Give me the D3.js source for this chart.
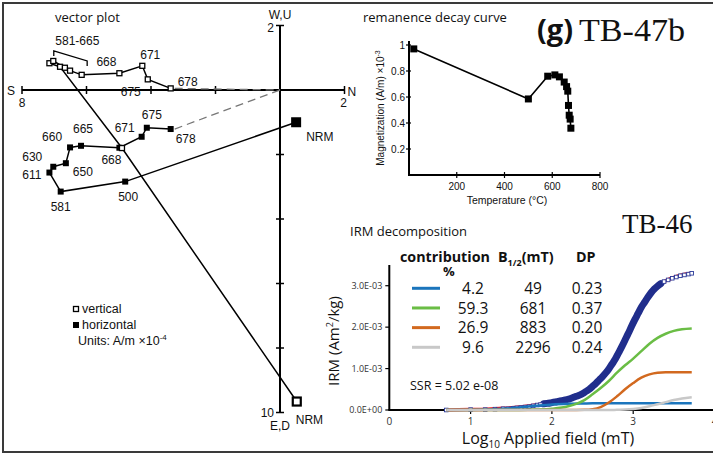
<!DOCTYPE html>
<html>
<head>
<meta charset="utf-8">
<script src="https://cdn.jsdelivr.net/npm/d3@7"></script>
<style>
body { margin: 0; background: #fff; }
svg { display: block; }
</style>
</head>
<body>
<svg id="fig" width="713" height="456"></svg>
<script>
// ---- vector plot (units A/m x1e-4), N positive right, down positive
const steps = ["NRM", "500", "581", "611", "630", "650", "660", "665", "668", "671", "675", "678"];
const horN  = [0.50, -4.80, -6.80, -7.15, -7.03, -6.64, -6.51, -6.17, -4.98, -4.29, -4.13, -3.39];
const horE  = [1.00, 2.84, 3.15, 2.56, 2.38, 2.27, 1.78, 1.73, 1.79, 1.45, 1.17, 1.21];
const vertN = [0.52, -4.90, -6.82, -7.15, -7.03, -6.67, -6.51, -6.15, -4.98, -4.27, -4.10, -3.39];
const vertD = [9.66, 1.80, -0.72, -0.83, -0.90, -0.69, -0.60, -0.47, -0.52, -0.75, -0.33, -0.05];
const vecTicksH = [-8, -6, -4, -2, 2];
const vecTicksV = [-2, 2, 4, 6, 8, 10];

// ---- remanence decay curve
const decayT = [20, 500, 581, 611, 630, 650, 660, 665, 668, 671, 675, 678];
const decayM = [0.97, 0.585, 0.76, 0.77, 0.755, 0.715, 0.68, 0.645, 0.535, 0.46, 0.43, 0.36];
const decayTicksX = [200, 400, 600, 800];
const decayTicksY = [0.2, 0.4, 0.6, 0.8, 1];

// ---- IRM decomposition (IRM in 1e-3 Am2/kg)
const fieldLog = [0.7, 1.0, 1.2, 1.4, 1.6, 1.8, 2.0, 2.2, 2.4, 2.5, 2.6, 2.7, 2.8, 2.9, 3.0, 3.1, 3.2, 3.3, 3.4, 3.5, 3.6, 3.72];
const comp1 = [0, 0.003, 0.012, 0.03, 0.06, 0.10, 0.135, 0.152, 0.158, 0.16, 0.16, 0.16, 0.16, 0.16, 0.16, 0.16, 0.16, 0.16, 0.16, 0.16, 0.16, 0.16];
const comp2 = [0, 0, 0, 0, 0.002, 0.01, 0.03, 0.09, 0.24, 0.38, 0.53, 0.70, 0.90, 1.08, 1.24, 1.42, 1.60, 1.74, 1.84, 1.91, 1.95, 1.97];
const comp3 = [0, 0, 0, 0, 0, 0, 0, 0, 0.005, 0.02, 0.07, 0.18, 0.33, 0.50, 0.65, 0.78, 0.86, 0.90, 0.91, 0.91, 0.91, 0.91];
const comp4 = [0, 0, 0, 0, 0, 0, 0, 0, 0, 0, 0, 0, 0.005, 0.01, 0.025, 0.05, 0.09, 0.14, 0.19, 0.24, 0.28, 0.31];
const fitSum = [0, 0.01, 0.02, 0.04, 0.07, 0.12, 0.18, 0.26, 0.42, 0.57, 0.76, 0.99, 1.30, 1.70, 2.10, 2.48, 2.78, 2.99, 3.12, 3.20, 3.26, 3.30];
const measLog = [0.70, 1.00, 1.18, 1.30, 1.40, 1.46, 1.52, 1.57, 1.62, 1.67, 1.72, 1.77, 1.82, 1.86, 1.90, 1.94, 1.98,
  2.02, 2.06, 2.10, 2.14, 2.18, 2.22, 2.26, 2.30, 2.34, 2.38, 2.42, 2.46, 2.50, 2.54, 2.58, 2.62, 2.66, 2.70, 2.74, 2.78,
  2.82, 2.86, 2.90, 2.94, 2.98, 3.02, 3.06, 3.10, 3.14, 3.18, 3.22, 3.26, 3.30, 3.34, 3.38, 3.43, 3.48, 3.53, 3.58, 3.63, 3.68, 3.72];
const measIRM = [0.00, 0.01, 0.01, 0.02, 0.03, 0.03, 0.04, 0.05, 0.06, 0.07, 0.08, 0.10, 0.12, 0.13, 0.15, 0.16, 0.17,
  0.19, 0.20, 0.22, 0.23, 0.25, 0.27, 0.30, 0.33, 0.36, 0.40, 0.45, 0.50, 0.57, 0.64, 0.72, 0.80, 0.89, 0.99, 1.11, 1.23,
  1.38, 1.53, 1.69, 1.85, 2.02, 2.18, 2.33, 2.48, 2.60, 2.72, 2.83, 2.92, 2.99, 3.05, 3.10, 3.14, 3.18, 3.21, 3.24, 3.26, 3.28, 3.30];
const compContrib = ["4.2", "59.3", "26.9", "9.6"];
const compB = ["49", "681", "883", "2296"];
const compDP = ["0.23", "0.37", "0.20", "0.24"];
const irmTicksX = [0, 1, 2, 3, 4];
const irmTicksY = [0, 1, 2, 3];

const compColors = ["#1b75bc", "#6abd45", "#d2691f", "#c8c8c8"];
const sans = "Liberation Sans, Arial, sans-serif";
const open = "Open Sans, sans-serif";
const serif = "Liberation Serif, Times New Roman, serif";

const svg = d3.select("#fig");

// frame
svg.append("path")
	.attr("d", "M713,3H3V452H713")
	.attr("fill", "none")
	.attr("stroke", "#3a3a3a")
	.attr("stroke-width", 2);

// ================= vector plot
const vx = d3.scaleLinear().domain([-8, 2]).range([22, 344.5]);
const vy = d3.scaleLinear().domain([-2, 10]).range([25.5, 412.5]);
const vp = svg.append("g").attr("font-family", sans).attr("font-size", 12).attr("fill", "#111");

vp.append("text").attr("x", 55).attr("y", 22).attr("font-family", open).attr("font-size", 13)
	.text("vector plot");

vp.append("line").attr("x1", vx(-8)).attr("x2", vx(2)).attr("y1", vy(0)).attr("y2", vy(0))
	.attr("stroke", "#000").attr("stroke-width", 2);
vp.append("line").attr("x1", vx(0)).attr("x2", vx(0)).attr("y1", vy(-2)).attr("y2", vy(10))
	.attr("stroke", "#000").attr("stroke-width", 2);
vp.selectAll(".ht").data(vecTicksH).enter().append("line")
	.attr("x1", d => vx(d)).attr("x2", d => vx(d))
	.attr("y1", vy(0) - 4).attr("y2", vy(0) + 4)
	.attr("stroke", "#000").attr("stroke-width", 1.5);
vp.selectAll(".vt").data(vecTicksV).enter().append("line")
	.attr("x1", vx(0) - 4).attr("x2", vx(0) + 4)
	.attr("y1", d => vy(d)).attr("y2", d => vy(d))
	.attr("stroke", "#000").attr("stroke-width", 1.5);

vp.append("text").attr("x", vx(-8) - 7).attr("y", vy(0) + 5).attr("text-anchor", "end").text("S");
vp.append("text").attr("x", vx(2) + 3).attr("y", vy(0) + 6).text("N");
vp.append("text").attr("x", vx(-8)).attr("y", vy(0) + 17).attr("text-anchor", "middle").text("8");
vp.append("text").attr("x", vx(2) - 1).attr("y", vy(0) + 17).attr("text-anchor", "middle").text("2");
vp.append("text").attr("x", vx(0)).attr("y", 19).attr("text-anchor", "middle").text("W,U");
vp.append("text").attr("x", vx(0) - 6).attr("y", vy(-2) + 6).attr("text-anchor", "end").text("2");
vp.append("text").attr("x", vx(0) - 6).attr("y", vy(10) + 4).attr("text-anchor", "end").text("10");
vp.append("text").attr("x", vx(0)).attr("y", vy(10) + 17).attr("text-anchor", "middle").text("E,D");

// dashed lines to origin from the last step
const last = steps.length - 1;
[[horN[last], horE[last]], [vertN[last], vertD[last]]].forEach(p => {
	vp.append("line")
		.attr("x1", vx(p[0]) + 4).attr("y1", vy(p[1]))
		.attr("x2", vx(0)).attr("y2", vy(0))
		.attr("stroke", "#777").attr("stroke-width", 1.3).attr("stroke-dasharray", "8,5");
});

const idx = d3.range(steps.length);
vp.append("path")
	.attr("d", d3.line().x(i => vx(horN[i])).y(i => vy(horE[i]))(idx))
	.attr("fill", "none").attr("stroke", "#000").attr("stroke-width", 1.5);
vp.append("path")
	.attr("d", d3.line().x(i => vx(vertN[i])).y(i => vy(vertD[i]))(idx))
	.attr("fill", "none").attr("stroke", "#000").attr("stroke-width", 1.5);

vp.selectAll(".hm").data(idx).enter().append("rect")
	.each(function (i) {
		const s = i === 0 ? 10 : 6;
		d3.select(this).attr("x", vx(horN[i]) - s / 2).attr("y", vy(horE[i]) - s / 2)
			.attr("width", s).attr("height", s);
	})
	.attr("fill", "#000");
vp.selectAll(".vm").data(idx).enter().append("rect")
	.each(function (i) {
		const s = i === 0 ? 8 : 5;
		d3.select(this).attr("x", vx(vertN[i]) - s / 2).attr("y", vy(vertD[i]) - s / 2)
			.attr("width", s).attr("height", s)
			.attr("stroke-width", i === 0 ? 2.2 : 1.3);
	})
	.attr("fill", "#fff").attr("stroke", "#000");

// label offsets [dx, dy, anchor]
const horLab = [[10, 19, "start"], [3, 19.5, "middle"], [0, 19.5, "middle"], [-8, 6.5, "end"], [-11, -5.5, "end"],
	[7, 13, "start"], [-18, -6, "middle"], [2, -12.5, "middle"], [-8, 16.5, "middle"], [-17, -4.5, "middle"],
	[5, -8.5, "middle"], [5, 14.3, "start"]];
vp.selectAll(".hl").data(idx).enter().append("text")
	.attr("x", i => vx(horN[i]) + horLab[i][0])
	.attr("y", i => vy(horE[i]) + horLab[i][1])
	.attr("text-anchor", i => horLab[i][2])
	.text(i => steps[i]);

const vertLab = { 0: [-1, 22.5, "start"], 8: [-13, -7, "middle"], 9: [8, -6.4, "middle"], 10: [-17, 17, "middle"], 11: [7, -2, "start"] };
vp.selectAll(".vl").data(idx.filter(i => vertLab[i])).enter().append("text")
	.attr("x", i => vx(vertN[i]) + vertLab[i][0])
	.attr("y", i => vy(vertD[i]) + vertLab[i][1])
	.attr("text-anchor", i => vertLab[i][2])
	.text(i => steps[i]);

// bracket over 581-665 cluster
const bl = vx(vertN[4]) + 0.5, br = vx(vertN[7]) + 5.5;
const bt = vy(vertD[4]) - 10;
vp.append("path")
	.attr("d", `M${bl},${bt + 5}V${bt}L${br},${bt + 10}V${bt + 15}`)
	.attr("fill", "none").attr("stroke", "#000").attr("stroke-width", 1.3);
vp.append("text").attr("x", bl + 1.5).attr("y", bt - 6).text(steps[2] + "-" + steps[7]);

// legend
vp.append("rect").attr("x", 73.5).attr("y", 306.5).attr("width", 5).attr("height", 5)
	.attr("fill", "#fff").attr("stroke", "#000").attr("stroke-width", 1.3);
vp.append("text").attr("x", 82).attr("y", 312.5).attr("font-size", 12.5).text("vertical");
vp.append("rect").attr("x", 73).attr("y", 322).attr("width", 6).attr("height", 6).attr("fill", "#000");
vp.append("text").attr("x", 82).attr("y", 329).attr("font-size", 12.5).text("horizontal");
const units = vp.append("text").attr("x", 78).attr("y", 345).attr("font-size", 12.5);
units.append("tspan").text("Units: A/m \u00d710");
units.append("tspan").attr("dy", -5).attr("font-size", 8).text("-4");

// ================= remanence decay curve
const dxs = d3.scaleLinear().domain([0, 800]).range([409, 600]);
const dys = d3.scaleLinear().domain([0, 1]).range([175, 45]);
const dc = svg.append("g").attr("font-family", sans).attr("font-size", 10).attr("fill", "#111");

dc.append("text").attr("x", 363).attr("y", 22).attr("font-family", open).attr("font-size", 13)
	.text("remanence decay curve");

dc.append("line").attr("x1", dxs(0)).attr("x2", dxs(0)).attr("y1", dys(0)).attr("y2", dys(1.03))
	.attr("stroke", "#000").attr("stroke-width", 2);
dc.append("line").attr("x1", dxs(0) - 1).attr("x2", dxs(800)).attr("y1", dys(0)).attr("y2", dys(0))
	.attr("stroke", "#000").attr("stroke-width", 2);
dc.selectAll(".xt").data(decayTicksX).enter().append("line")
	.attr("x1", d => dxs(d)).attr("x2", d => dxs(d)).attr("y1", dys(0) - 3).attr("y2", dys(0) + 3)
	.attr("stroke", "#000").attr("stroke-width", 1.2);
dc.selectAll(".xl").data(decayTicksX).enter().append("text")
	.attr("x", d => dxs(d)).attr("y", dys(0) + 14.5).attr("text-anchor", "middle").text(d => d);
dc.selectAll(".yt").data(decayTicksY).enter().append("line")
	.attr("x1", dxs(0) - 3).attr("x2", dxs(0) + 2).attr("y1", d => dys(d)).attr("y2", d => dys(d))
	.attr("stroke", "#000").attr("stroke-width", 1.2);
dc.selectAll(".yl").data(decayTicksY).enter().append("text")
	.attr("x", dxs(0) - 4).attr("y", d => dys(d) + 3.6).attr("text-anchor", "end")
	.text(d => d === 1 ? "1" : d.toFixed(1));

dc.append("text").attr("x", 507).attr("y", 203.5).attr("text-anchor", "middle").attr("font-size", 10.5)
	.text("Temperature (\u00b0C)");
const my = dc.append("text").attr("transform", "translate(383.5,108) rotate(-90)").attr("text-anchor", "middle");
my.append("tspan").text("Magnetization (A/m) \u00d710");
my.append("tspan").attr("dy", -4).attr("font-size", 7).text("-3");

const didx = d3.range(decayT.length);
dc.append("path")
	.attr("d", d3.line().x(i => dxs(decayT[i])).y(i => dys(decayM[i]))(didx))
	.attr("fill", "none").attr("stroke", "#000").attr("stroke-width", 1.6);
dc.selectAll(".dm").data(didx).enter().append("rect")
	.attr("x", i => dxs(decayT[i]) - 3.5).attr("y", i => dys(decayM[i]) - 3.5)
	.attr("width", 7).attr("height", 7).attr("fill", "#000");

// sample names
svg.append("text").attr("x", 537).attr("y", 40).attr("font-family", open).attr("font-weight", "bold")
	.attr("font-size", 29).attr("fill", "#111").text("(g)");
svg.append("text").attr("x", 579).attr("y", 41).attr("font-family", serif).attr("font-size", 31)
	.attr("textLength", 106).attr("lengthAdjust", "spacingAndGlyphs").attr("fill", "#111").text("TB-47b");
svg.append("text").attr("x", 622).attr("y", 232.5).attr("font-family", serif).attr("font-size", 27)
	.attr("fill", "#111").text("TB-46");

// ================= IRM decomposition
const ix = d3.scaleLinear().domain([0, 4]).range([389.3, 714.5]);
const iy = d3.scaleLinear().domain([0, 3.5]).range([410, 265]);
const ir = svg.append("g").attr("font-family", open).attr("fill", "#111");

ir.append("text").attr("x", 350).attr("y", 236).attr("font-size", 13).text("IRM decomposition");

ir.append("line").attr("x1", ix(0)).attr("x2", ix(0)).attr("y1", iy(0)).attr("y2", iy(3.5))
	.attr("stroke", "#000").attr("stroke-width", 2);
ir.append("line").attr("x1", ix(0) - 1).attr("x2", 713).attr("y1", iy(0)).attr("y2", iy(0))
	.attr("stroke", "#000").attr("stroke-width", 2);
ir.selectAll(".xt").data(irmTicksX.slice(1)).enter().append("line")
	.attr("x1", d => ix(d)).attr("x2", d => ix(d)).attr("y1", iy(0)).attr("y2", iy(0) + 4)
	.attr("stroke", "#000").attr("stroke-width", 1.2);
ir.selectAll(".xl").data(irmTicksX).enter().append("text")
	.attr("x", d => ix(d)).attr("y", iy(0) + 15).attr("text-anchor", "middle")
	.attr("font-size", 10).attr("fill", "#333").text(d => d);
ir.selectAll(".yt").data(irmTicksY).enter().append("line")
	.attr("x1", ix(0) - 4).attr("x2", ix(0)).attr("y1", d => iy(d)).attr("y2", d => iy(d))
	.attr("stroke", "#000").attr("stroke-width", 1.2);
ir.selectAll(".yl").data(irmTicksY).enter().append("text")
	.attr("x", ix(0) - 7).attr("y", d => iy(d) + 3.3).attr("text-anchor", "end")
	.attr("font-size", 9).attr("fill", "#333")
	.text(d => d === 0 ? "0.0E+00" : d.toFixed(1) + "E-03");

const ixl = ir.append("text").attr("x", 548).attr("y", 444).attr("text-anchor", "middle").attr("font-size", 16);
ixl.append("tspan").text("Log");
ixl.append("tspan").attr("dy", 4).attr("font-size", 10).text("10");
ixl.append("tspan").attr("dy", -4).text(" Applied field (mT)");
const iyl = ir.append("text").attr("transform", "translate(338.5,341) rotate(-90)")
	.attr("text-anchor", "middle").attr("font-size", 15);
iyl.append("tspan").text("IRM (Am");
iyl.append("tspan").attr("dy", -6).attr("font-size", 9).text("2");
iyl.append("tspan").attr("dy", 6).text("/kg)");

const fidx = d3.range(fieldLog.length);
const curve = arr => d3.line().curve(d3.curveMonotoneX).x(i => ix(fieldLog[i])).y(i => iy(arr[i]))(fidx);

// fitted sum (red) under the measured data
ir.append("path").attr("d", curve(fitSum)).attr("fill", "none")
	.attr("stroke", "#e3232b").attr("stroke-width", 3.5);
// dense measured points form a solid band
const midx = d3.range(measLog.length);
const band = midx.filter(i => measLog[i] >= 1.9 && measLog[i] <= 3.36);
ir.append("path")
	.attr("d", d3.line().curve(d3.curveMonotoneX).x(i => ix(measLog[i])).y(i => iy(measIRM[i]))(band))
	.attr("fill", "none").attr("stroke", "#202e8c").attr("stroke-width", 7).attr("stroke-linecap", "round");
ir.selectAll(".mp").data(midx.filter(i => measLog[i] < 1.9 || measLog[i] > 3.36)).enter().append("rect")
	.attr("x", i => ix(measLog[i]) - 1.8).attr("y", i => iy(measIRM[i]) - 1.8)
	.attr("width", 3.6).attr("height", 3.6)
	.attr("fill", "#fff").attr("stroke", "#2a3a9a").attr("stroke-width", 0.9);

[comp1, comp2, comp3, comp4].forEach((c, k) => {
	ir.append("path").attr("d", curve(c)).attr("fill", "none")
		.attr("stroke", compColors[k]).attr("stroke-width", 2.5);
});

// table legend
ir.append("text").attr("x", 400).attr("y", 262).attr("font-size", 14.3).attr("font-weight", "bold").text("contribution");
ir.append("text").attr("x", 443).attr("y", 276).attr("font-size", 13).attr("font-weight", "bold").text("%");
const bh = ir.append("text").attr("x", 498).attr("y", 262).attr("font-size", 14.3).attr("font-weight", "bold");
bh.append("tspan").text("B");
bh.append("tspan").attr("dy", 4).attr("font-size", 9).text("1/2");
bh.append("tspan").attr("dy", -4).text("(mT)");
ir.append("text").attr("x", 576).attr("y", 262).attr("font-size", 14.3).attr("font-weight", "bold").text("DP");

const rowY = d3.scaleLinear().domain([0, 3]).range([288.3, 347.3]);
compContrib.forEach((v, k) => {
	const y = rowY(k);
	ir.append("line").attr("x1", 412).attr("x2", 440).attr("y1", y).attr("y2", y)
		.attr("stroke", compColors[k]).attr("stroke-width", 3);
	ir.append("text").attr("x", 473).attr("y", y + 5.6).attr("text-anchor", "middle").attr("font-size", 15.5).text(v);
	ir.append("text").attr("x", 533).attr("y", y + 5.6).attr("text-anchor", "middle").attr("font-size", 15.5).text(compB[k]);
	ir.append("text").attr("x", 587).attr("y", y + 5.6).attr("text-anchor", "middle").attr("font-size", 15.5).text(compDP[k]);
});
ir.append("text").attr("x", 410).attr("y", 389.5).attr("font-size", 12.5).text("SSR = 5.02 e-08");
</script>
</body>
</html>
